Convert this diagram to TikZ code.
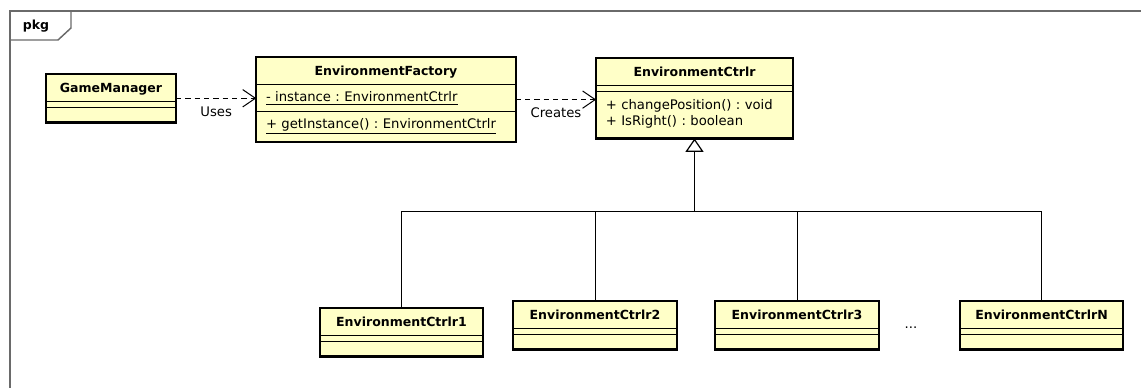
\documentclass[tikz,border=0pt]{standalone}
\usepackage{fontspec}
\setmainfont{DejaVu Sans}
\usepackage{tikz}
\usetikzlibrary{arrows.meta,shapes.multipart}
\definecolor{classfill}{HTML}{FFFFC8}
\definecolor{framegray}{HTML}{6A6A6A}

\newcommand\umltitle[1]{\rule[-4.5pt]{0pt}{15.5pt}\hfill{\fontsize{9.4}{12}\selectfont\bfseries #1}\hfill\null}
\newcommand\umlrow[1]{\rule[-4.5pt]{0pt}{15.5pt}#1}
\newcommand\umlend{\rule[-7.5pt]{0pt}{7.5pt}}
\newcommand\umlempty{\rule{0pt}{6.5pt}}

\begin{document}
\frenchspacing
\begin{tikzpicture}[x=0.75pt,y=-0.75pt,
  cls/.style={rectangle split, rectangle split parts=3, draw, line width=0.6pt,
    fill=classfill, inner xsep=7pt, inner ysep=2pt, text width=#1, align=left,
    rectangle split empty part height=3.5pt, anchor=north,
    font=\fontsize{9.9}{12}\selectfont},
  border/.style={line width=1.6pt},
  dep/.style={line width=0.75pt, dash pattern=on 4pt off 3pt,
    -{Straight Barb[length=9.5pt,width=13pt]}},
  gen/.style={line width=0.9pt, -{Triangle[open,length=10pt,width=13.5pt]}},
  lbl/.style={font=\fontsize{9.9}{12}\selectfont}]

\clip (0,0) rectangle (1141,388);

% package frame
\draw[framegray, line width=1.1pt] (10,11) rectangle (1160,400);
\draw[framegray, line width=1.1pt] (10,40) -- (58,40) -- (71,28) -- (71,11);
\node[font=\fontsize{9.4}{12}\selectfont\bfseries] (pkg) at (36,26) {pkg};

% classes
\node[cls=83pt] (gm) at (111,74)
  {\umltitle{GameManager}\nodepart{two}\nodepart{three}\umlempty};
\node[cls=180pt] (fac) at (386,57)
  {\umltitle{EnvironmentFactory}
   \nodepart{two}\umlrow{\underline{- instance : EnvironmentCtrlr}}
   \nodepart{three}\rule{0pt}{11pt}\underline{+ getInstance() : EnvironmentCtrlr}\umlend};
\node[cls=133pt] (ctl) at (694.5,58)
  {\umltitle{EnvironmentCtrlr}\nodepart{two}
   \nodepart{three}\rule{0pt}{11pt}+ changePosition() : void\\+ IsRight() : boolean\umlend};

\node[cls=108pt] (c1) at (401.5,308)
  {\umltitle{EnvironmentCtrlr1}\nodepart{two}\nodepart{three}\umlempty};
\node[cls=108pt] (c2) at (595,301)
  {\umltitle{EnvironmentCtrlr2}\nodepart{two}\nodepart{three}\umlempty};
\node[cls=108pt] (c3) at (797,301)
  {\umltitle{EnvironmentCtrlr3}\nodepart{two}\nodepart{three}\umlempty};
\node[cls=108pt] (cn) at (1041.5,301)
  {\umltitle{EnvironmentCtrlrN}\nodepart{two}\nodepart{three}\umlempty};

\node[lbl] (dots) at (911,328) {...};

\foreach \n in {gm,fac,ctl,c1,c2,c3,cn}
  \draw[border] (\n.south west) rectangle (\n.north east);

% dependencies
\draw[dep] (gm.east) -- node[lbl,below,yshift=-2.5pt] (uses) {Uses} (gm.east -| fac.west);
\draw[dep] (fac.east) -- node[lbl,below,yshift=-2.5pt] (creates) {Creates} (fac.east -| ctl.west);

% generalization
\coordinate (bus) at (694.5,212);
\draw[gen] (bus) -- (ctl.south);
\foreach \c in {c1,c2,c3,cn}
  \draw[line width=0.75pt] (\c.north) |- (bus);

\end{tikzpicture}
\end{document}
